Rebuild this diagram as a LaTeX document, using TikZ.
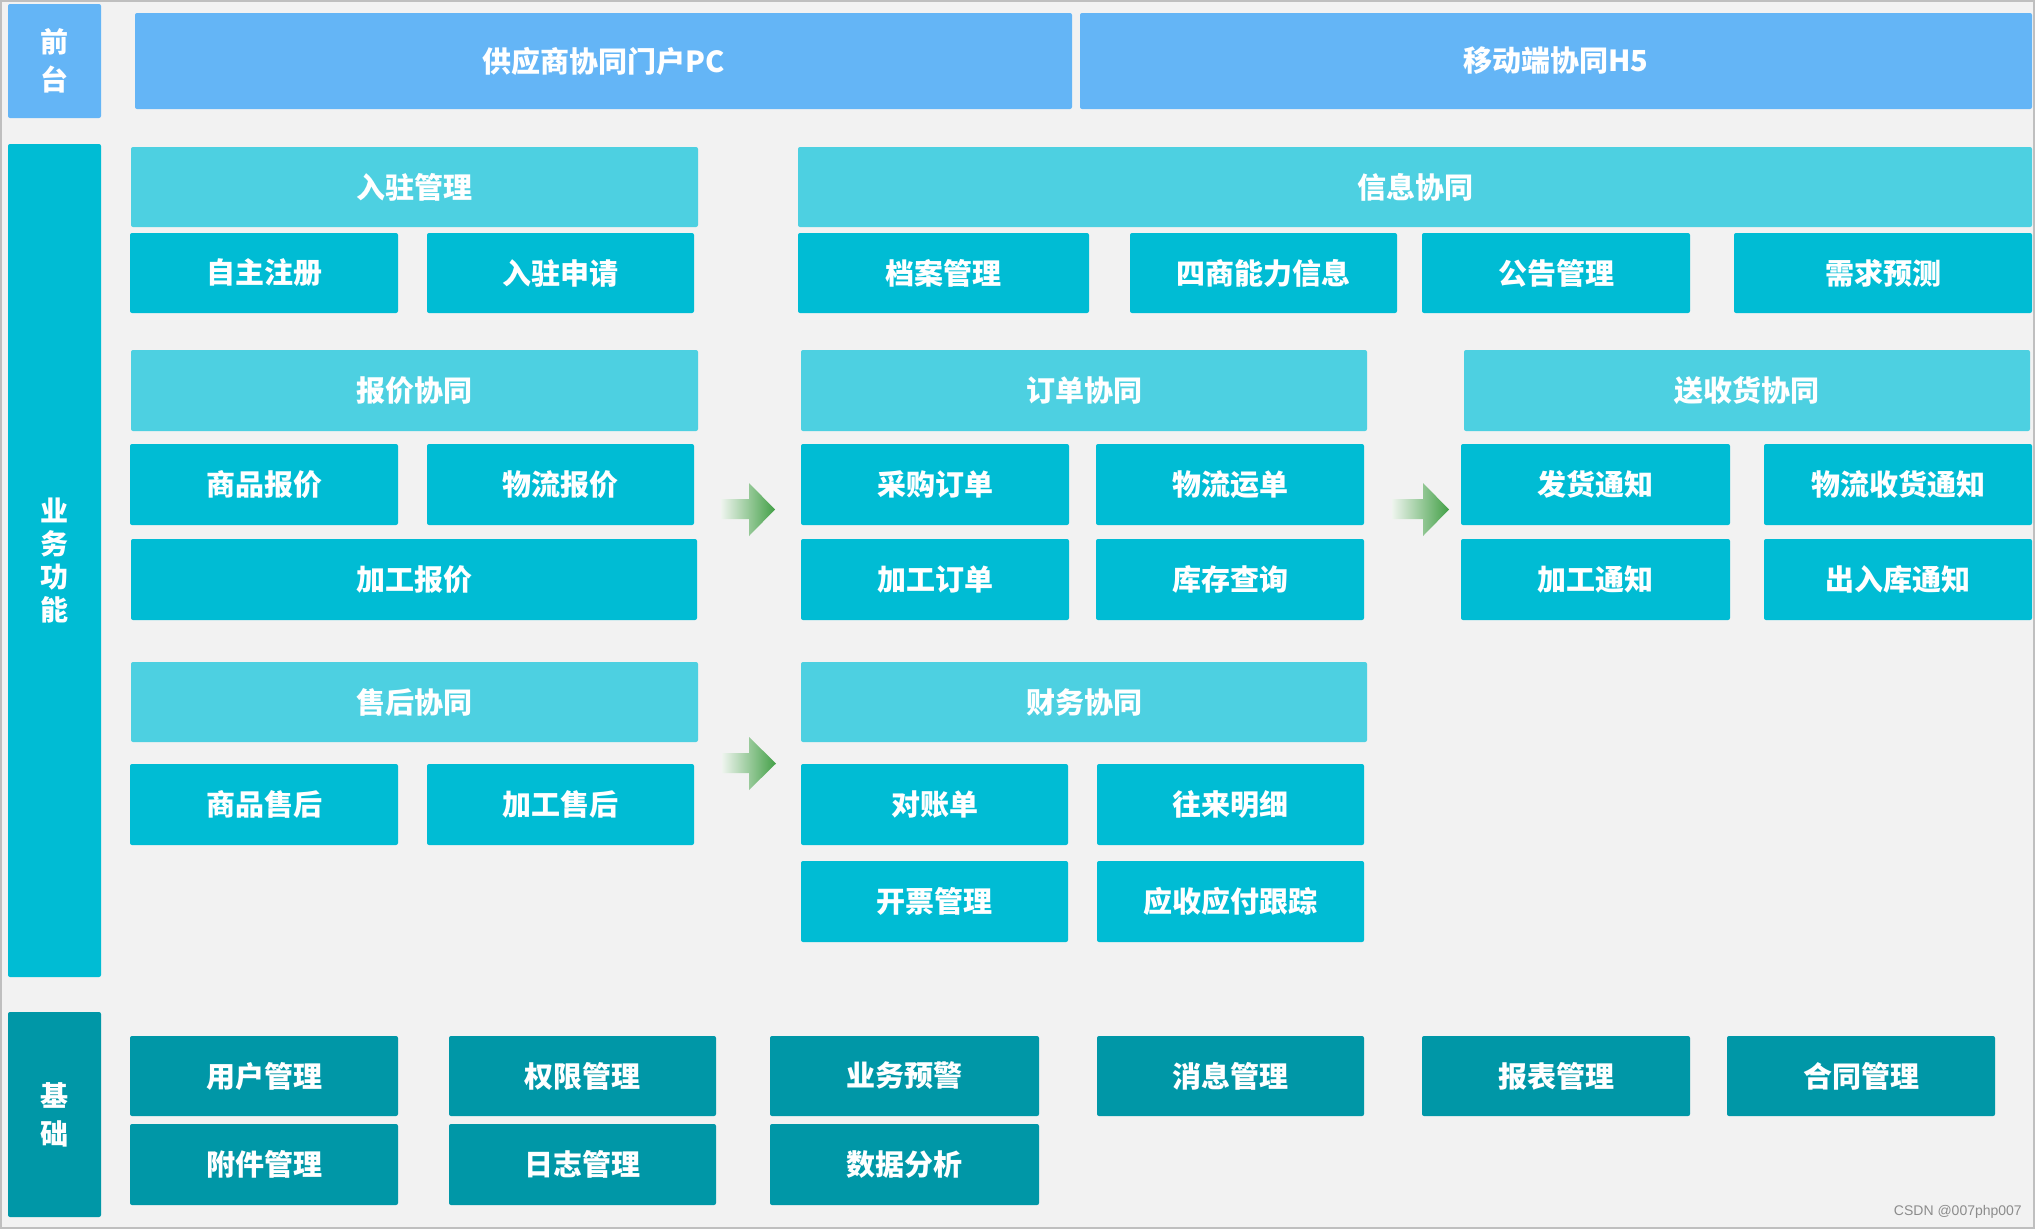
\documentclass[tikz,border=0pt]{standalone}
\usepackage{fontspec}
\setmainfont{Noto Sans CJK SC}
\newfontfamily\wmfont{Liberation Sans}
\definecolor{bg}{HTML}{F2F2F2}
\definecolor{front}{HTML}{64B5F6}
\definecolor{head}{HTML}{4DD0E1}
\definecolor{item}{HTML}{00BCD4}
\definecolor{base}{HTML}{0097A7}
\definecolor{arrowgreen}{HTML}{43A047}
\definecolor{arrowlight}{HTML}{EEF4EE}
\newcommand\mybox[7]{\node[#1, anchor=north west, minimum width={#5-#3}, minimum height={#6-#4}] (#2) at (#3,#4) {#7};}
\tikzset{
  blk/.style={rectangle, rounded corners=2pt, inner sep=0pt, outer sep=0pt, text=white,
    font=\fontsize{29}{34}\selectfont\bfseries},
  frontbox/.style={blk, fill=front},
  headbox/.style={blk, fill=head},
  itembox/.style={blk, fill=item},
  basebox/.style={blk, fill=base},
  sidebox/.style={blk, align=center},
  greenarrow/.style={left color=arrowlight, right color=arrowgreen}
}
\begin{document}
\begin{tikzpicture}[x=1pt,y=-1pt]
\useasboundingbox (0,0) rectangle (2035,1229);
\fill[bg] (0,0) rectangle (2035,1229);
\draw[line width=1.5pt, color=black!25] (1,1) rectangle (2034,1228);

% front layer
\mybox{frontbox, sidebox, font=\fontsize{28}{38}\selectfont\bfseries}{qiantai}{8}{4}{101}{118}{前\\台}
\mybox{frontbox}{pc}{135}{13}{1072}{109}{供应商协同门户PC}
\mybox{frontbox}{hfive}{1080}{13}{2032}{109}{移动端协同H5}

% side bars
\mybox{sidebox, fill=item, font=\fontsize{28}{33}\selectfont\bfseries}{yewu}{8}{144}{101}{977}{业\\务\\功\\能}
\mybox{sidebox, fill=base, font=\fontsize{28}{38}\selectfont\bfseries}{jichu}{8}{1012}{101}{1217}{基\\础}

% headers
\mybox{headbox}{ruzhu}{131}{147}{698}{227}{入驻管理}
\mybox{headbox}{xinxi}{798}{147}{2032}{227}{信息协同}
\mybox{headbox}{baojia}{131}{350}{698}{431}{报价协同}
\mybox{headbox}{dingdan}{801}{350}{1367}{431}{订单协同}
\mybox{headbox}{songshou}{1464}{350}{2030}{431}{送收货协同}
\mybox{headbox}{shouhou}{131}{662}{698}{742}{售后协同}
\mybox{headbox}{caiwu}{801}{662}{1367}{742}{财务协同}

% row 1
\mybox{itembox}{zizhu}{130}{233}{398}{313}{自主注册}
\mybox{itembox}{shenqing}{427}{233}{694}{313}{入驻申请}
\mybox{itembox}{dangan}{798}{233}{1089}{313}{档案管理}
\mybox{itembox}{sishang}{1130}{233}{1397}{313}{四商能力信息}
\mybox{itembox}{gonggao}{1422}{233}{1690}{313}{公告管理}
\mybox{itembox}{xuqiu}{1734}{233}{2032}{313}{需求预测}

% row 2
\mybox{itembox}{spbj}{130}{444}{398}{525}{商品报价}
\mybox{itembox}{wlbj}{427}{444}{694}{525}{物流报价}
\mybox{itembox}{cgdd}{801}{444}{1069}{525}{采购订单}
\mybox{itembox}{wlyd}{1096}{444}{1364}{525}{物流运单}
\mybox{itembox}{fhtz}{1461}{444}{1730}{525}{发货通知}
\mybox{itembox}{wlshtz}{1764}{444}{2032}{525}{物流收货通知}

% row 3
\mybox{itembox}{jgbj}{131}{539}{697}{620}{加工报价}
\mybox{itembox}{jgdd}{801}{539}{1069}{620}{加工订单}
\mybox{itembox}{kccx}{1096}{539}{1364}{620}{库存查询}
\mybox{itembox}{jgtz}{1461}{539}{1730}{620}{加工通知}
\mybox{itembox}{crktz}{1764}{539}{2032}{620}{出入库通知}

% row 4
\mybox{itembox}{spsh}{130}{764}{398}{845}{商品售后}
\mybox{itembox}{jgsh}{427}{764}{694}{845}{加工售后}
\mybox{itembox}{dzd}{801}{764}{1068}{845}{对账单}
\mybox{itembox}{wlmx}{1097}{764}{1364}{845}{往来明细}

% row 5
\mybox{itembox}{kpgl}{801}{861}{1068}{942}{开票管理}
\mybox{itembox}{ysyf}{1097}{861}{1364}{942}{应收应付跟踪}

% base layer
\mybox{basebox}{yhgl}{130}{1036}{398}{1116}{用户管理}
\mybox{basebox}{qxgl}{449}{1036}{716}{1116}{权限管理}
\mybox{basebox}{ywyj}{770}{1036}{1039}{1116}{业务预警}
\mybox{basebox}{xxgl}{1097}{1036}{1364}{1116}{消息管理}
\mybox{basebox}{bbgl}{1422}{1036}{1690}{1116}{报表管理}
\mybox{basebox}{htgl}{1727}{1036}{1995}{1116}{合同管理}
\mybox{basebox}{fjgl}{130}{1124}{398}{1205}{附件管理}
\mybox{basebox}{rzgl}{449}{1124}{716}{1205}{日志管理}
\mybox{basebox}{sjfx}{770}{1124}{1039}{1205}{数据分析}

% flow arrows
\shade[greenarrow] (721,499) -- (749,499) -- (749,483) -- (775,509.5) -- (749,536) -- (749,519) -- (721,519) -- cycle;
\shade[greenarrow] (1392,499) -- (1423,499) -- (1423,483) -- (1449,509.5) -- (1423,536) -- (1423,519) -- (1392,519) -- cycle;
\shade[greenarrow] (722,753) -- (749,753) -- (749,737) -- (776,763.5) -- (749,790) -- (749,773) -- (722,773) -- cycle;

% watermark
\node[anchor=east, inner sep=0pt, text=black!45, font=\wmfont\fontsize{14}{16}\selectfont] (wm) at (2022,1212) {CSDN @007php007};
\end{tikzpicture}
\end{document}
